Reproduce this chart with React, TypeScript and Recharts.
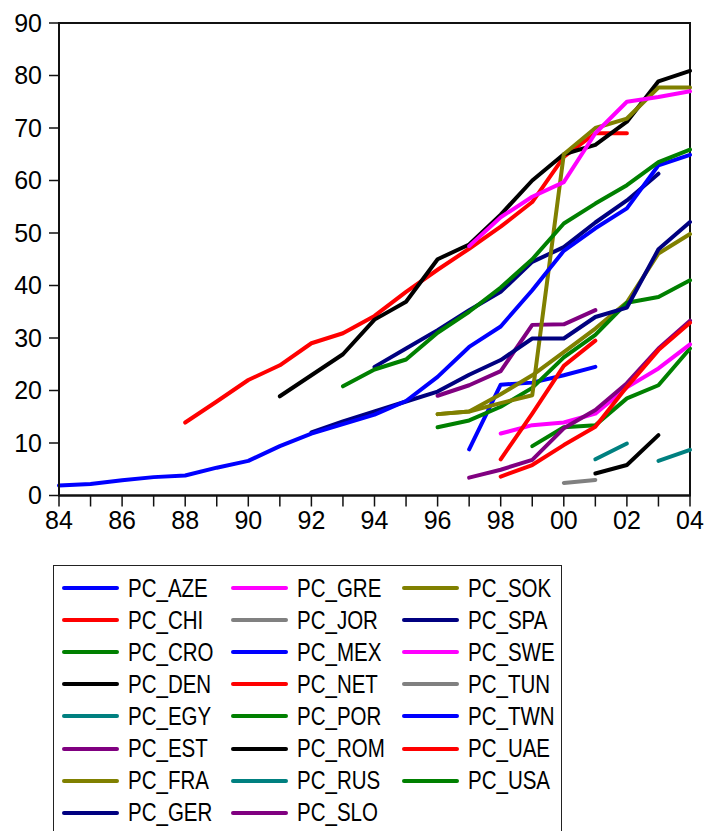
import React from "react";
import { Legend, Line, LineChart, ReferenceArea, XAxis, YAxis } from "recharts";

const years = [
  1984, 1985, 1986, 1987, 1988, 1989, 1990, 1991, 1992, 1993, 1994, 1995, 1996,
  1997, 1998, 1999, 2000, 2001, 2002, 2003, 2004,
];
const yTicks = [0, 10, 20, 30, 40, 50, 60, 70, 80, 90];

// each series runs from its first year with data
const PC_AZE = [8.8, 21.1, 21.5, 22.9, 24.5]; // 1997-
const PC_CHI = [13.9, 17.9, 22, 24.8, 29, 30.9, 34.2, 38.8, 43, 47, 51.2, 55.9, 64.5, 69, 69]; // 1988-
const PC_CRO = [9.4, 13, 13.4, 18.5, 21, 28]; // 1999-
const PC_DEN = [18.9, 22.9, 26.9, 33.5, 36.9, 45, 47.8, 53.5, 60, 65, 66.8, 71.2, 78.9, 80.9]; // 1991-
const PC_EGY = [6.9, 9.9]; // 2001-
const PC_EST = [19, 21, 23.7, 32.5, 32.6, 35.3]; // 1996-
const PC_FRA = [15.5, 16, 19.3, 22.9, 27.3, 31.8, 36.8, 46.1, 49.8]; // 1996-
const PC_GER = [24.5, 28, 31.5, 35.3, 38.8, 44.5, 47.3, 52, 56.2, 61.3]; // 1994-
const PC_GRE = [11.8, 13.4, 13.9, 15.6, 20.6, 24.2, 28.8]; // 1998-
const PC_JOR = [2.4, 2.95]; // 2000-
const PC_MEX: number[] = [];
const PC_NET = [6.9, 15.6, 24.7, 29.5]; // 1998-
const PC_POR = [13, 14.3, 16.9, 20.5, 26.3, 30.6, 36.7, 37.8, 41]; // 1996-
const PC_ROM = [4.2, 5.8, 11.5]; // 2001-
const PC_RUS = [6.6, 8.7]; // 2003-
const PC_SLO = [3.4, 4.9, 6.8, 12.8, 16.3, 21.4, 28, 33.3]; // 1997-
const PC_SOK = [15.5, 16, 17.6, 19.1, 65, 70, 71.8, 77.7, 77.7]; // 1996-
const PC_SPA = [12, 14.1, 16, 17.9, 19.8, 23, 25.8, 29.9, 29.9, 34, 35.8, 46.9, 52.1]; // 1992-
const PC_SWE = [47.5, 53, 56.9, 59.7, 69, 75, 75.9, 77]; // 1997-
const PC_TUN: number[] = [];
const PC_TWN = [
  1.9, 2.2, 2.9, 3.5, 3.8, 5.3, 6.6, 9.4, 11.8, 13.6, 15.4, 18, 22.6, 28.3, 32.2,
  39.1, 46.6, 50.9, 54.7, 62.9, 64.9,
]; // 1984-
const PC_UAE = [3.6, 5.8, 9.6, 13.1, 20.7, 27.7, 32.9]; // 1998-
const PC_USA = [20.8, 24, 25.9, 31, 35, 39.6, 45, 51.8, 55.6, 59.1, 63.5, 65.9]; // 1993-

const BLUE = "#0000FF";
const RED = "#FF0000";
const GREEN = "#008000";
const BLACK = "#000000";
const TEAL = "#008080";
const PURPLE = "#800080";
const OLIVE = "#808000";
const NAVY = "#000080";
const MAGENTA = "#FF00FF";
const GRAY = "#808080";

const series = [
  { name: "PC_AZE", color: BLUE, start: 1997, values: PC_AZE },
  { name: "PC_CHI", color: RED, start: 1988, values: PC_CHI },
  { name: "PC_CRO", color: GREEN, start: 1999, values: PC_CRO },
  { name: "PC_DEN", color: BLACK, start: 1991, values: PC_DEN },
  { name: "PC_EGY", color: TEAL, start: 2001, values: PC_EGY },
  { name: "PC_EST", color: PURPLE, start: 1996, values: PC_EST },
  { name: "PC_FRA", color: OLIVE, start: 1996, values: PC_FRA },
  { name: "PC_GER", color: NAVY, start: 1994, values: PC_GER },
  { name: "PC_GRE", color: MAGENTA, start: 1998, values: PC_GRE },
  { name: "PC_JOR", color: GRAY, start: 2000, values: PC_JOR },
  { name: "PC_MEX", color: BLUE, start: 1984, values: PC_MEX },
  { name: "PC_NET", color: RED, start: 1998, values: PC_NET },
  { name: "PC_POR", color: GREEN, start: 1996, values: PC_POR },
  { name: "PC_ROM", color: BLACK, start: 2001, values: PC_ROM },
  { name: "PC_RUS", color: TEAL, start: 2003, values: PC_RUS },
  { name: "PC_SLO", color: PURPLE, start: 1997, values: PC_SLO },
  { name: "PC_SOK", color: OLIVE, start: 1996, values: PC_SOK },
  { name: "PC_SPA", color: NAVY, start: 1992, values: PC_SPA },
  { name: "PC_SWE", color: MAGENTA, start: 1997, values: PC_SWE },
  { name: "PC_TUN", color: GRAY, start: 1984, values: PC_TUN },
  { name: "PC_TWN", color: BLUE, start: 1984, values: PC_TWN },
  { name: "PC_UAE", color: RED, start: 1998, values: PC_UAE },
  { name: "PC_USA", color: GREEN, start: 1993, values: PC_USA },
];

const data = years.map((year) => {
  const row: Record<string, number | null> = { year };
  series.forEach((s) => {
    const i = year - s.start;
    row[s.name] = i >= 0 && i < s.values.length ? s.values[i] : null;
  });
  return row;
});

const FONT = "'Liberation Sans', Arial, sans-serif";
const AXIS = "#111";

// labels only on even years, tick marks on every year
const YearTick = (props: any) => {
  const { x, y, payload } = props;
  if (payload.value % 2 !== 0) return <g />;
  return (
    <text x={x} y={y} dy="0.71em" textAnchor="middle" fill="#000" fontSize={25} fontFamily={FONT}>
      {String(payload.value % 100).padStart(2, "0")}
    </text>
  );
};

// three columns filled top to bottom, narrow lettering
const LegendBox = (props: any) => {
  const { payload } = props;
  return (
    <div
      style={{
        width: 509,
        height: 290,
        boxSizing: "border-box",
        border: "1.5px solid #222",
        padding: "6px 0 0 8px",
        display: "grid",
        gridAutoFlow: "column",
        gridTemplateRows: "repeat(8, 32.1px)",
        gridTemplateColumns: "169px 171px 160px",
        fontFamily: FONT,
        fontSize: 25,
        color: "#000",
      }}
    >
      {(payload || []).map((entry: any) => (
        <div
          key={entry.value}
          style={{ display: "flex", alignItems: "center", whiteSpace: "nowrap", overflow: "visible", minWidth: 0 }}
        >
          <span
            style={{
              display: "inline-block",
              flex: "0 0 57px",
              width: 57,
              height: 4,
              borderRadius: 2,
              background: entry.color,
              marginRight: 9,
            }}
          />
          <span
            style={{
              display: "inline-block",
              transform: "scaleX(0.82)",
              transformOrigin: "left center",
              lineHeight: 1,
            }}
          >
            {entry.value}
          </span>
        </div>
      ))}
    </div>
  );
};

export default function App() {
  return (
    <div style={{ position: "absolute", left: 0, top: 0, background: "#fff" }}>
      <LineChart
        width={707}
        height={831}
        data={data}
        margin={{ top: 23, right: 17, left: 0, bottom: 295.5 }}
      >
        <XAxis
          dataKey="year"
          type="number"
          domain={[1984, 2004]}
          ticks={years}
          interval={0}
          height={40}
          tickSize={11}
          tickMargin={5}
          tick={<YearTick />}
          axisLine={{ stroke: AXIS, strokeWidth: 2 }}
          tickLine={{ stroke: AXIS, strokeWidth: 1.5 }}
        />
        <YAxis
          type="number"
          domain={[0, 90]}
          ticks={yTicks}
          interval={0}
          width={59}
          tickSize={10}
          tickMargin={7}
          tick={{ fill: "#000", fontSize: 25, fontFamily: FONT }}
          axisLine={{ stroke: AXIS, strokeWidth: 2 }}
          tickLine={{ stroke: AXIS, strokeWidth: 1.5 }}
        />
        <ReferenceArea
          x1={1984}
          x2={2004}
          y1={0}
          y2={90}
          fill="none"
          stroke={AXIS}
          strokeWidth={2}
          ifOverflow="visible"
        />
        {series.map((s) => (
          <Line
            key={s.name}
            type="linear"
            dataKey={s.name}
            name={s.name}
            stroke={s.color}
            strokeWidth={4}
            strokeLinecap="round"
            strokeLinejoin="round"
            dot={false}
            activeDot={false}
            isAnimationActive={false}
          />
        ))}
        <Legend
          layout="horizontal"
          verticalAlign="middle"
          align="center"
          content={<LegendBox />}
          wrapperStyle={{ top: 565, left: 53, width: 509 }}
        />
      </LineChart>
    </div>
  );
}
